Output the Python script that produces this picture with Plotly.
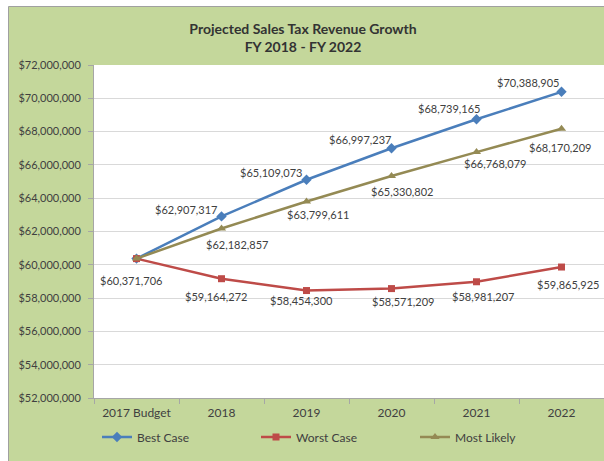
import plotly.graph_objects as go

# Fiscal-year categories and projected revenue for each scenario
categories = ["2017 Budget", "2018", "2019", "2020", "2021", "2022"]
best_case = [60371706, 62907317, 65109073, 66997237, 68739165, 70388905]
worst_case = [60371706, 59164272, 58454300, 58571209, 58981207, 59865925]
most_likely = [60371706, 62182857, 63799611, 65330802, 66768079, 68170209]

title_lines = ["Projected Sales Tax Revenue Growth", "FY 2018 - FY 2022"]

# Label placement (pixel offsets from each point: right, down); None = no label
best_offsets = [None, (-36, -7), (-36, -7), (-32, -9), (-28, -11), (-34, -9)]
worst_offsets = [(-6, 22), (-6, 18), (-5, 10), (11, 13), (6, 15), (6, 17)]
likely_offsets = [None, (15, 16), (11, 13), (10, 15), (18, 11), (-2, 19)]

FONT = "Lato"
TEXT = "#404040"
BG_GREEN = "#c4d79b"

W, H = 604, 461
ML, MR, MT, MB = 94, 0, 65, 63
PW, PH = W - ML - MR, H - MT - MB


def px_to_paper_x(px):
    return (px - ML) / PW


def px_to_paper_y(py):
    return (H - MB - py) / PH


series = [
    ("Best Case", best_case, "#4a7ebb", "diamond", 8, best_offsets),
    ("Worst Case", worst_case, "#be4b48", "square", 7, worst_offsets),
    ("Most Likely", most_likely, "#948a54", "triangle-up", 8, likely_offsets),
]

fig = go.Figure()
annotations = []
for name, values, color, symbol, msize, offsets in series:
    fig.add_trace(go.Scatter(
        x=categories, y=values, name=name, mode="lines+markers",
        line=dict(color=color, width=2.5),
        marker=dict(symbol=symbol, size=msize, color=color),
        hoverinfo="skip",
    ))
    for idx, (val, off) in enumerate(zip(values, offsets)):
        if off is None:
            continue
        # category axis: annotations are positioned by category index
        annotations.append(dict(
            x=idx, y=val, xref="x", yref="y",
            text=f"${val:,.0f}", showarrow=False,
            xshift=off[0], yshift=-off[1],
            font=dict(family=FONT, size=11, color=TEXT),
        ))

# Green chart panel with a grey frame, then the white plot area on top of it
fig.add_shape(
    type="rect", xref="paper", yref="paper", layer="below",
    x0=px_to_paper_x(8.5), x1=px_to_paper_x(W + 20),
    y0=px_to_paper_y(H + 20), y1=px_to_paper_y(6.5),
    fillcolor=BG_GREEN, line=dict(color="#a0a0a0", width=1),
)
fig.add_shape(
    type="rect", xref="paper", yref="paper", layer="below",
    x0=0, x1=1, y0=0, y1=1,
    fillcolor="white", line=dict(width=0),
)

fig.update_layout(
    width=W, height=H,
    margin=dict(l=ML, r=MR, t=MT, b=MB, pad=0, autoexpand=False),
    paper_bgcolor="white",
    plot_bgcolor="rgba(0,0,0,0)",
    font=dict(family=FONT, color=TEXT),
    title=dict(
        text="<b>" + "<br>".join(title_lines) + "</b>",
        x=303 / W, xanchor="center", xref="container",
        y=1 - 34 / H, yanchor="middle", yref="container",
        font=dict(family=FONT, size=14, color="#333333"),
    ),
    showlegend=True,
    legend=dict(
        orientation="h", x=px_to_paper_x(97), xanchor="left",
        y=px_to_paper_y(437), yanchor="middle",
        bgcolor="rgba(0,0,0,0)", entrywidth=114,
        font=dict(family=FONT, size=12, color=TEXT),
    ),
    annotations=annotations,
)

fig.update_xaxes(
    type="category", showgrid=False, zeroline=False,
    showline=True, linecolor="#a6a6a6", linewidth=1,
    ticks="outside", tickson="boundaries", ticklen=5, tickcolor="#a6a6a6",
    ticklabelstandoff=4,
    tickfont=dict(family=FONT, size=12, color=TEXT),
    range=[-0.5, len(categories) - 0.5],
    fixedrange=True,
)
fig.update_yaxes(
    range=[52000000, 72000000], dtick=2000000,
    tickprefix="$", tickformat=",.0f",
    showgrid=True, gridcolor="#d9d9d9", gridwidth=1, zeroline=False,
    showline=True, linecolor="#a6a6a6", linewidth=1,
    ticks="outside", ticklen=5, tickcolor="#a6a6a6",
    ticklabelstandoff=5,
    tickfont=dict(family=FONT, size=11, color=TEXT),
    fixedrange=True,
)

fig.write_html("out.html")
